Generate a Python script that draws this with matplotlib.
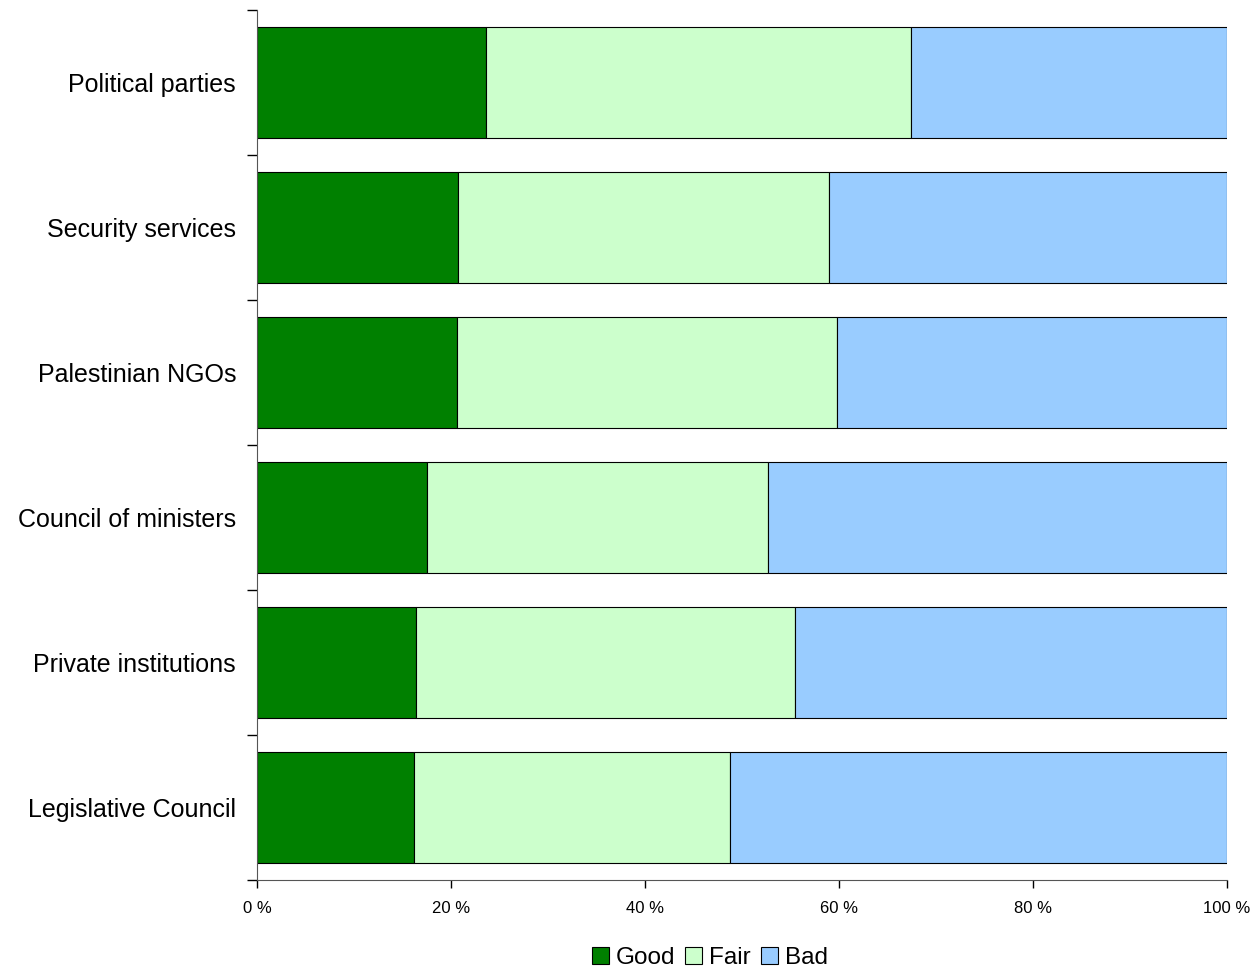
import matplotlib.pyplot as plt
import numpy as np
from matplotlib.ticker import FixedLocator

plt.rcParams['font.family'] = ['Liberation Sans', 'DejaVu Sans']

# data (percent), top to bottom
categories = ["Political parties", "Security services", "Palestinian NGOs",
              "Council of ministers", "Private institutions", "Legislative Council"]
good = [23.6, 20.7, 20.6, 17.5, 16.4, 16.2]
fair = [43.8, 38.3, 39.2, 35.2, 39.1, 32.6]
bad = [100 - g - f for g, f in zip(good, fair)]

series = [("Good", good, "#008000"), ("Fair", fair, "#CCFFCC"), ("Bad", bad, "#99CCFF")]

fig = plt.figure(figsize=(12.54, 9.68), dpi=100)
ax = fig.add_axes([0.2049, 0.0909, 0.7736, 0.8988])

y = np.arange(len(categories))
left = np.zeros(len(categories))
for name, vals, color in series:
    ax.barh(y, vals, left=left, height=0.77, color=color, edgecolor="black",
            linewidth=0.8, label=name)
    left += np.array(vals)

ax.set_ylim(len(categories) - 0.5, -0.5)
ax.set_xlim(0, 100)
ax.set_yticks(y)
ax.set_yticklabels(categories, fontsize=18)
ax.yaxis.set_minor_locator(FixedLocator(np.arange(-0.5, len(categories), 1)))
ax.tick_params(axis="y", which="major", length=0, pad=15)
ax.tick_params(axis="y", which="minor", length=7, width=1, color="black")
ax.set_xticks([0, 20, 40, 60, 80, 100])
ax.set_xticklabels([f"{v} %" for v in [0, 20, 40, 60, 80, 100]], fontsize=12)
ax.tick_params(axis="x", length=6, width=1, pad=9)

ax.spines["top"].set_visible(False)
ax.spines["right"].set_visible(False)
ax.spines["left"].set_color("#555555")
ax.spines["bottom"].set_color("#555555")

fig.legend(loc="lower center", bbox_to_anchor=(0.566, -0.024), ncol=3, frameon=False,
           fontsize=17.5, handlelength=0.7, handleheight=0.7, handletextpad=0.3,
           columnspacing=0.4)

fig.savefig("out.png", dpi=100)
